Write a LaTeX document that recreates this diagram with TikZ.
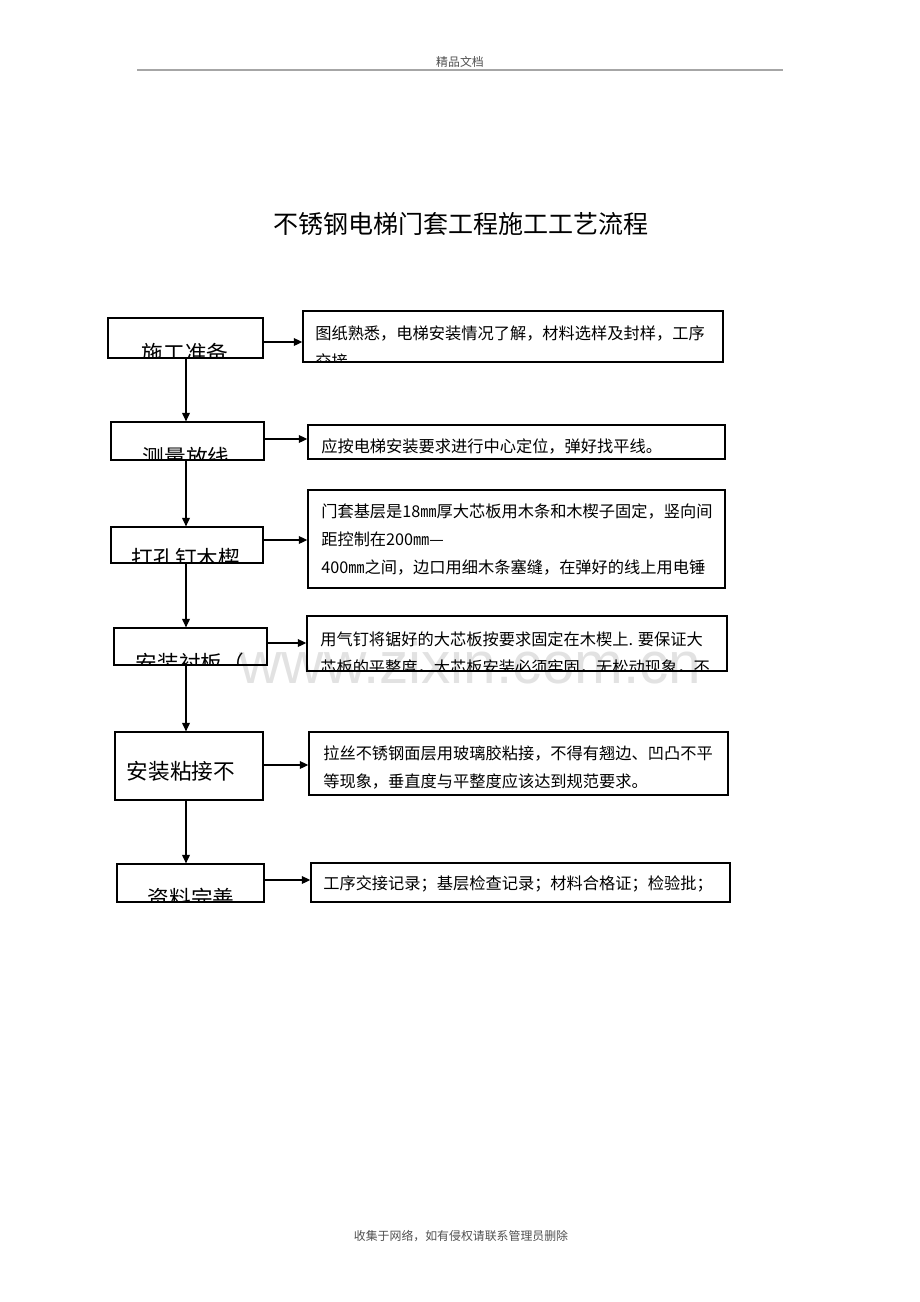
\documentclass[tikz,border=0pt]{standalone}
\usepackage{fontspec}
\setmainfont{Noto Sans CJK SC}
\newfontfamily\markfont{Liberation Sans}
\usepackage{xcolor}
\usepackage{tikz}
\usetikzlibrary{arrows.meta,positioning,fit}
\definecolor{markgray}{HTML}{E2E2E2}
\definecolor{rulegray}{HTML}{A6A6A6}
\definecolor{pagegray}{HTML}{505050}

\begin{document}
\begin{tikzpicture}[
  x=0.6471pt, y=-0.6471pt,
  stagebox/.style={rectangle, draw=black, line width=0.8pt, inner sep=0pt},
  notebox/.style={rectangle, draw=black, line width=0.9pt, inner sep=0pt},
  stagetext/.style={anchor=base, inner sep=0pt, font=\fontsize{14}{16}\selectfont},
  notetext/.style={anchor=base west, inner sep=0pt, align=left, font=\fontsize{10.5}{18.1}\selectfont},
  pagetext/.style={inner sep=0pt, text=pagegray, font=\fontsize{7.7}{9}\selectfont},
  arrow/.style={-{Triangle[length=5.5pt,width=5pt]}, line width=0.8pt}
]
  \useasboundingbox (0,0) rectangle (920,1302);

  % watermark, behind the boxes
  \node[anchor=base, inner sep=0pt, text=markgray, font=\markfont\fontsize{37.9}{40}\selectfont] (mark) at (470.5,683) {www.zixin.com.cn};

  % header and footer
  \node[pagetext] (header) at (460,62) {精品文档};
  \coordinate (ruleL) at (137,70);
  \coordinate (ruleR) at (783,70);
  \draw[rulegray, line width=1pt] (ruleL) -- (ruleR);
  \node[pagetext] (footer) at (461,1236) {收集于网络，如有侵权请联系管理员删除};

  % title
  \node[inner sep=0pt, font=\fontsize{16.2}{18}\selectfont] (title) at (461,224) {不锈钢电梯门套工程施工工艺流程};

  % process steps (left)
  \node[stagebox, fit={(108,318) (263,358)}] (prep) {};
  \node[stagebox, fit={(111,422) (264,460)}] (survey) {};
  \node[stagebox, fit={(111,527) (263,563)}] (wedge) {};
  \node[stagebox, fit={(114,628) (267,665)}] (lining) {};
  \node[stagebox, fit={(115,732) (263,800)}] (bond) {};
  \node[stagebox, fit={(117,864) (264,902)}] (docs) {};

  % notes (right)
  \node[notebox, fit={(303,311) (723,362)}] (prepnote) {};
  \node[notebox, fit={(308,425) (725,459)}] (surveynote) {};
  \node[notebox, fit={(308,490) (725,588)}] (wedgenote) {};
  \node[notebox, fit={(307,616) (727,671)}] (liningnote) {};
  \node[notebox, fit={(309,732) (728,795)}] (bondnote) {};
  \node[notebox, fit={(311,863) (730,902)}] (docsnote) {};

  % texts, cut off by their boxes (multi-line notes sit on their last baseline)
  \begin{scope}
    \clip (prep.south west) rectangle (prep.north east)
          (survey.south west) rectangle (survey.north east)
          (wedge.south west) rectangle (wedge.north east)
          (lining.south west) rectangle (lining.north east)
          (bond.south west) rectangle (bond.north east)
          (docs.south west) rectangle (docs.north east)
          (prepnote.south west) rectangle (prepnote.north east)
          (surveynote.south west) rectangle (surveynote.north east)
          (wedgenote.south west) rectangle (wedgenote.north east)
          (liningnote.south west) rectangle (liningnote.north east)
          (bondnote.south west) rectangle (bondnote.north east)
          (docsnote.south west) rectangle (docsnote.north east);
    \node[stagetext] (preplabel) at (185,361) {施工准备};
    \node[stagetext] (surveylabel) at (186,465) {测量放线};
    \node[stagetext] (wedgelabel) at (186,566) {打孔钉木楔};
    \node[stagetext] (lininglabel) at (190,671) {安装衬板（};
    \node[stagetext] (bondlabel) at (181,779) {安装粘接不};
    \node[stagetext] (docslabel) at (191,906) {资料完善};
    \node[notetext] (preptext) at (315,367) {图纸熟悉，电梯安装情况了解，材料选样及封样，工序\\交接};
    \node[notetext] (surveytext) at (321,452) {应按电梯安装要求进行中心定位，弹好找平线。};
    \node[notetext] (wedgetext) at (321,573) {门套基层是18㎜厚大芯板用木条和木楔子固定，竖向间\\距控制在200㎜—\\400㎜之间，边口用细木条塞缝，在弹好的线上用电锤};
    \node[notetext] (liningtext) at (320,673) {用气钉将锯好的大芯板按要求固定在木楔上. 要保证大\\芯板的平整度，大芯板安装必须牢固，无松动现象，不};
    \node[notetext] (bondtext) at (323,787) {拉丝不锈钢面层用玻璃胶粘接，不得有翘边、凹凸不平\\等现象，垂直度与平整度应该达到规范要求。};
    \node[notetext] (docstext) at (323,889) {工序交接记录；基层检查记录；材料合格证；检验批；};
  \end{scope}

  % flow down the left
  \coordinate (spine) at (186,0);
  \draw[arrow] (prep.south -| spine) -- (survey.north -| spine);
  \draw[arrow] (survey.south -| spine) -- (wedge.north -| spine);
  \draw[arrow] (wedge.south -| spine) -- (lining.north -| spine);
  \draw[arrow] (lining.south -| spine) -- (bond.north -| spine);
  \draw[arrow] (bond.south -| spine) -- (docs.north -| spine);

  % steps to notes
  \draw[arrow] (prep.east |- 0,342) -- (prepnote.west |- 0,342);
  \draw[arrow] (survey.east |- 0,439) -- (surveynote.west |- 0,439);
  \draw[arrow] (wedge.east |- 0,540) -- (wedgenote.west |- 0,540);
  \draw[arrow] (lining.east |- 0,643) -- (liningnote.west |- 0,643);
  \draw[arrow] (bond.east |- 0,765) -- (bondnote.west |- 0,765);
  \draw[arrow] (docs.east |- 0,880) -- (docsnote.west |- 0,880);
\end{tikzpicture}
\end{document}
